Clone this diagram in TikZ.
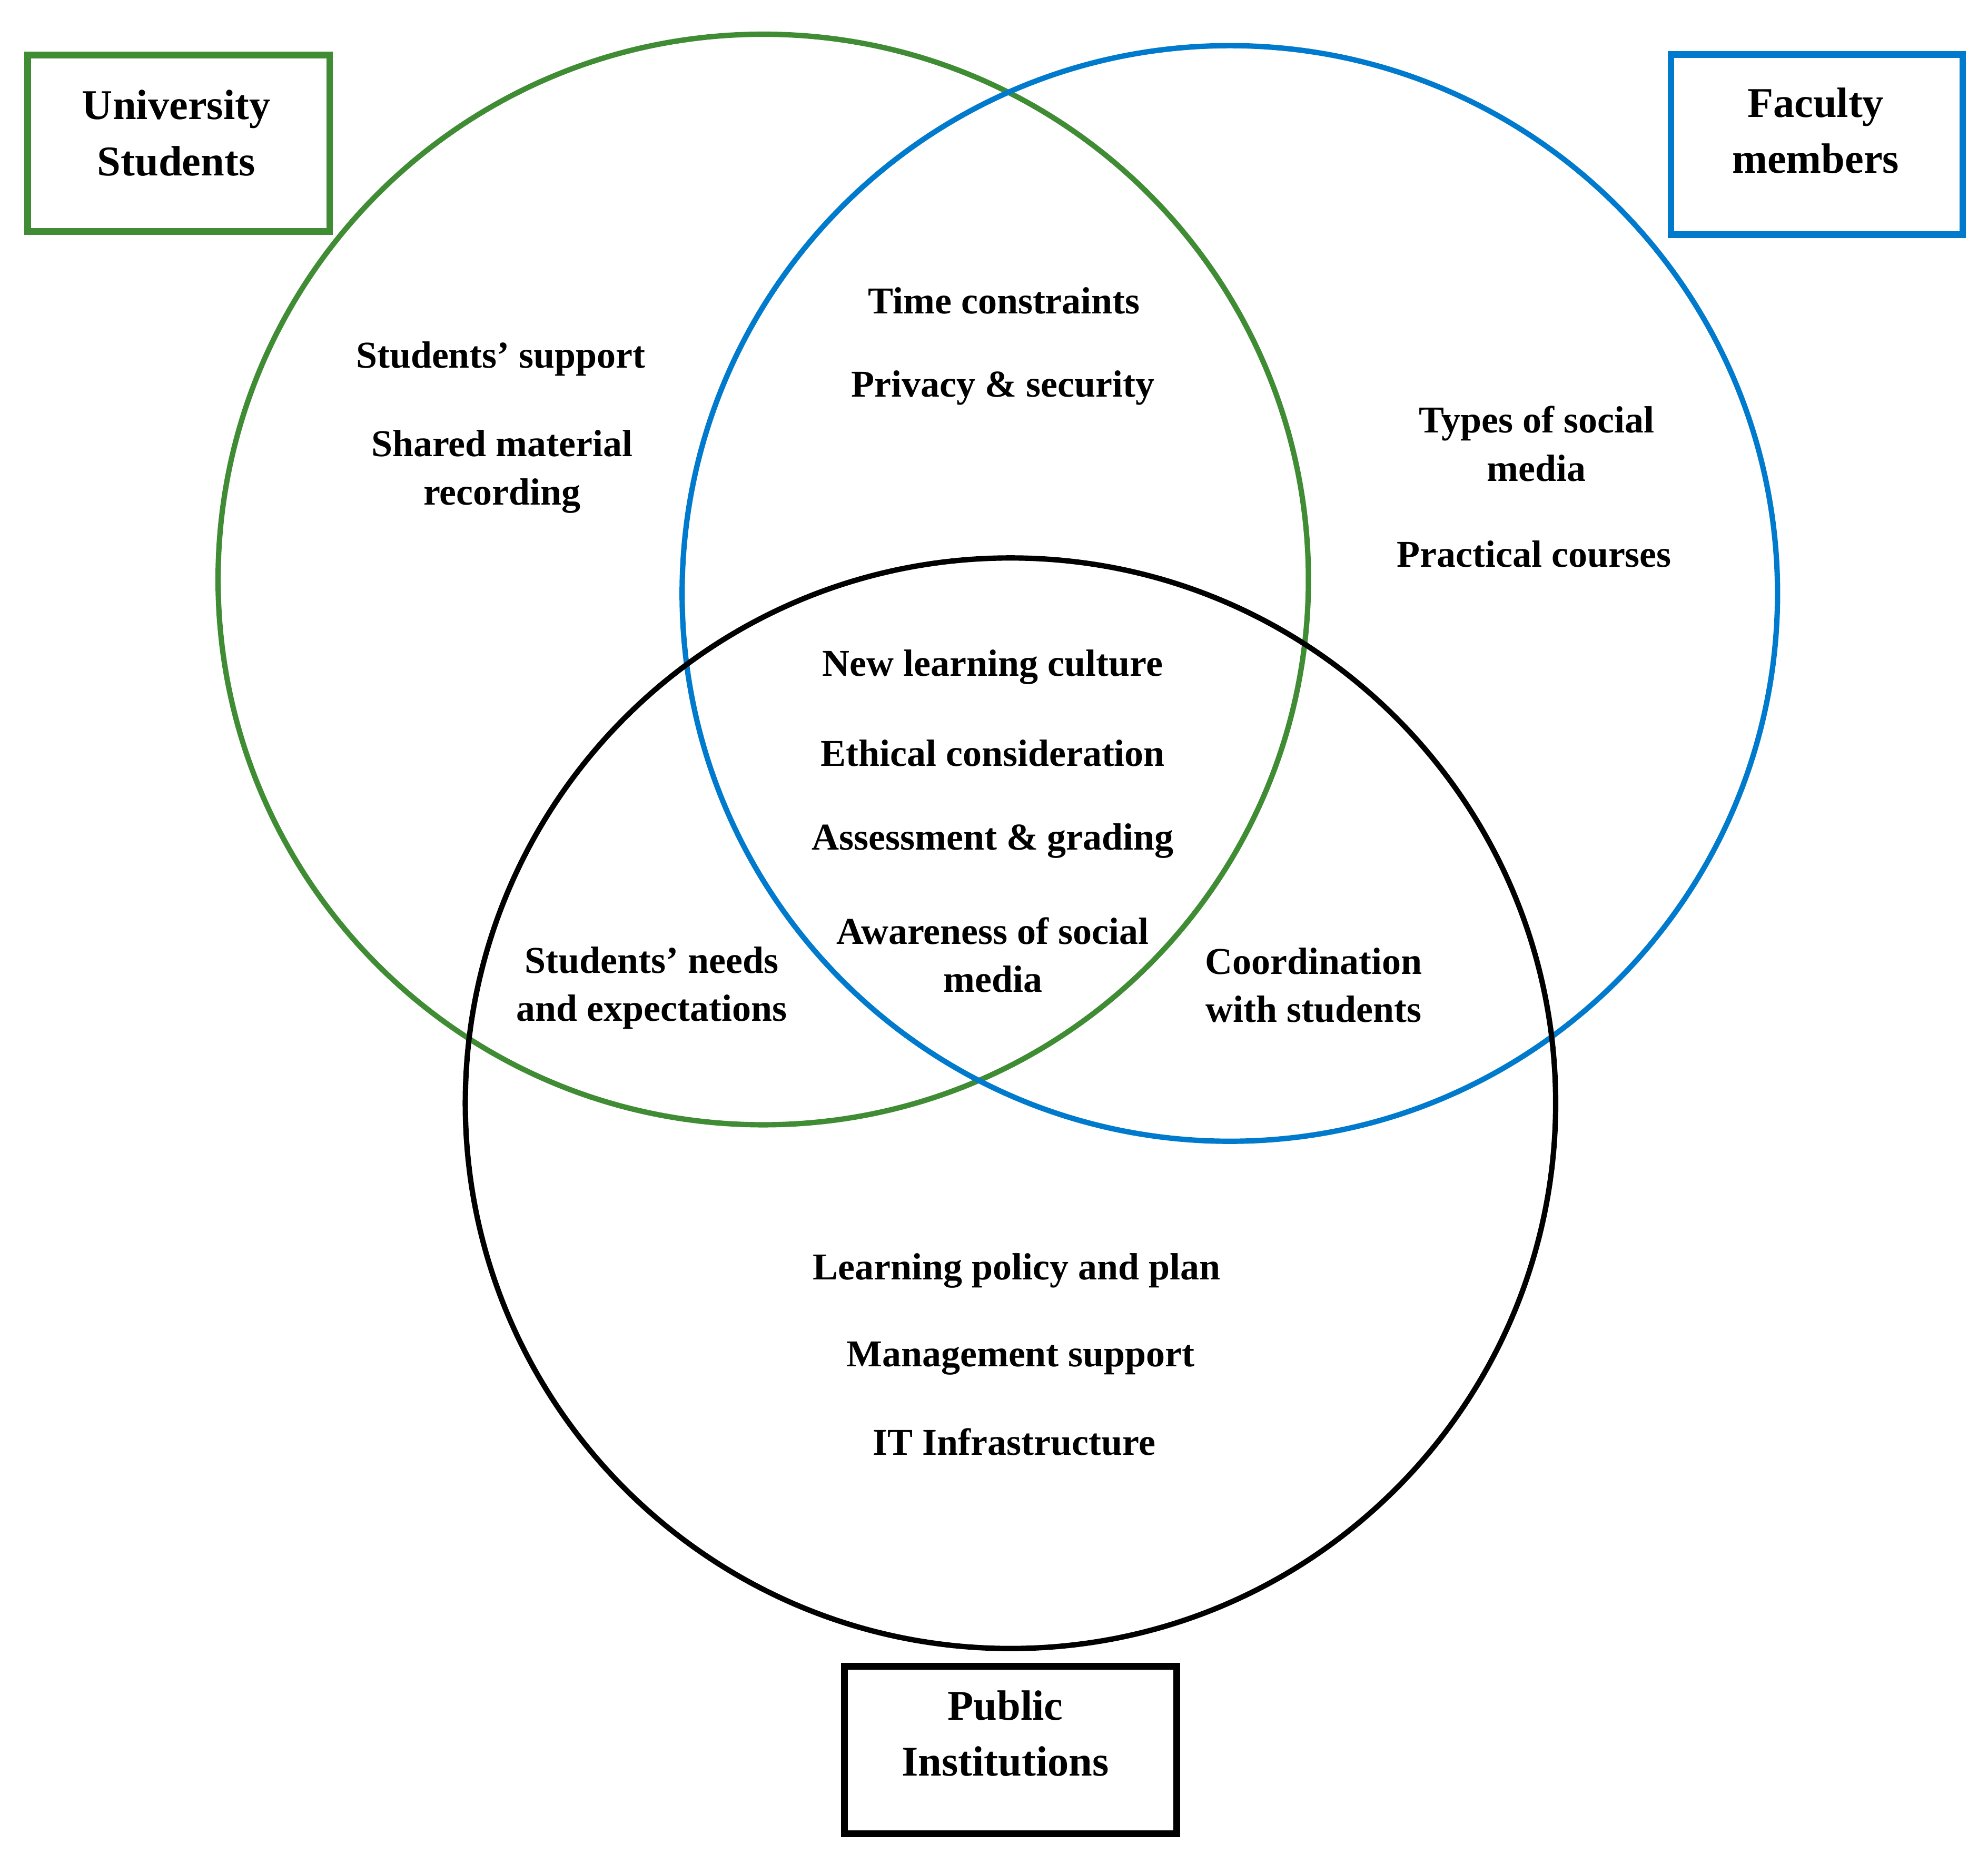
\documentclass[tikz,border=0pt]{standalone}
\usepackage{fontspec}
\setmainfont{Liberation Serif}
\usetikzlibrary{positioning}
\definecolor{stgreen}{RGB}{64,140,52}
\definecolor{facblue}{RGB}{0,122,204}

\begin{document}
\begin{tikzpicture}
 [ x=0.01cm, y=-0.01cm
 , set/.style={line width=1.2pt}
 , label box/.style={draw, line width=1.5pt}
 , box text/.style={align=center, font=\bfseries\fontsize{9.5}{12.6}\selectfont}
 , item/.style={align=center, font=\bfseries\fontsize{8.5}{10.8}\selectfont}
 ]
  \useasboundingbox (0,0) rectangle (1568,1461);
  % the three sets
  \draw [set, stgreen] (602,457) circle [radius=430];
  \draw [set, facblue] (970,468) circle [radius=432];
  \draw [set, black] (797,870) circle [radius=430];
  % labels of the sets
  \node [label box, stgreen, minimum width=2.38cm, minimum height=1.39cm] (students) at (141,113) {};
  \node [box text] (students text) at (139,105) {University\\Students};
  \node [label box, facblue, minimum width=2.30cm, minimum height=1.42cm] (faculty) at (1433,114) {};
  \node [box text] (faculty text) at (1432,103) {Faculty\\members};
  \node [label box, minimum width=2.62cm, minimum height=1.32cm] (public) at (797,1380) {};
  \node [box text] (public text) at (793,1367) {Public\\Institutions};
  % students only
  \node [item] (support) at (395,283) {Students' support};
  \node [item] (shared) at (396,372) {Shared material\\recording};
  % students and faculty
  \node [item] (time) at (792,237) {Time constraints};
  \node [item] (privacy) at (791,306) {Privacy \& security};
  % faculty only
  \node [item] (types) at (1212,350) {Types of social\\media};
  \node [item] (practical) at (1210,437) {Practical courses};
  % all three
  \node [item] (culture) at (783,526) {New learning culture};
  \node [item] (ethics) at (783,594) {Ethical consideration};
  \node [item] (grading) at (783,663) {Assessment \& grading};
  \node [item] (awareness) at (783,753) {Awareness of social\\media};
  % students and institutions
  \node [item] (needs) at (514,779) {Students' needs\\and expectations};
  % faculty and institutions
  \node [item] (coord) at (1036,777) {Coordination\\with students};
  % institutions only
  \node [item] (policy) at (802,1002) {Learning policy and plan};
  \node [item] (mgmt) at (805,1071) {Management support};
  \node [item] (infra) at (800,1137) {IT Infrastructure};
\end{tikzpicture}
\end{document}
